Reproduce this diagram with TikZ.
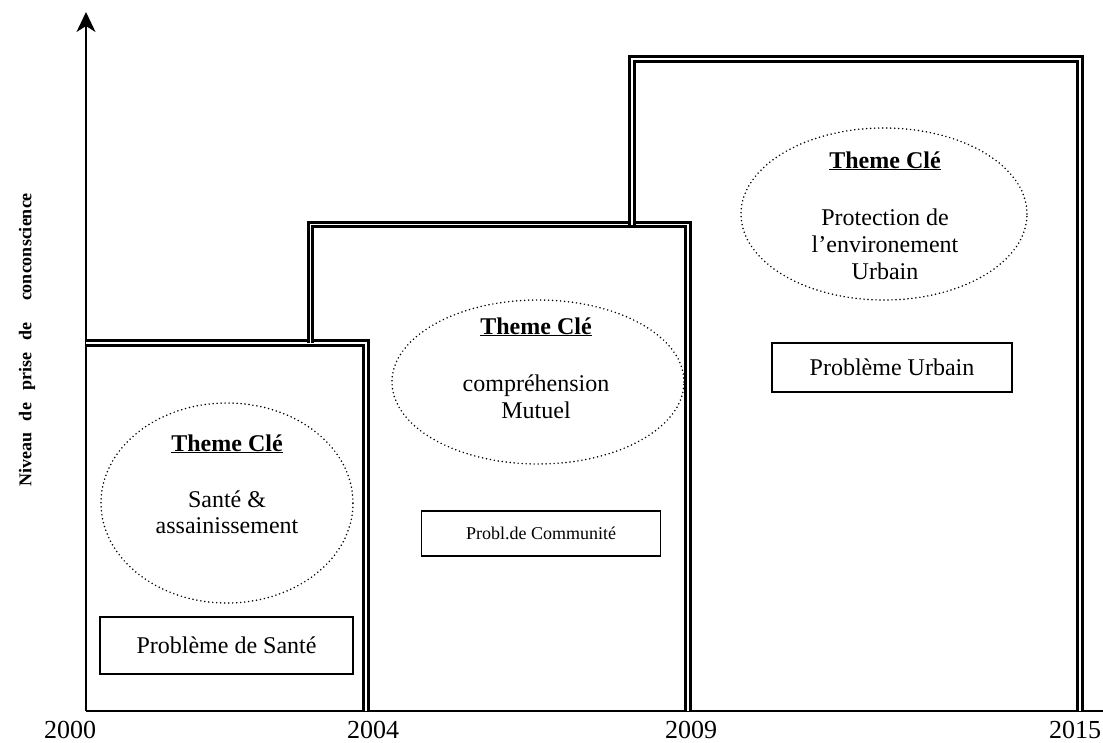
\documentclass[tikz,border=0pt]{standalone}
\usepackage{fontspec}
\setmainfont{Liberation Serif}
\usetikzlibrary{shapes.geometric,arrows.meta}

\begin{document}
\begin{tikzpicture}[x=1pt,y=-1pt,
  wall/.style={draw=black, line width=3.2pt, double=white, double distance=1.4pt},
  axis/.style={draw=black, line width=1.3pt},
  themeoval/.style={ellipse, draw=black, line width=1.7pt, line cap=round,
    dash pattern=on 0pt off 4pt, inner sep=0pt},
  keytext/.style={anchor=base, inner sep=0pt, font=\fontsize{24}{28}\selectfont\bfseries},
  bodytext/.style={anchor=base, inner sep=0pt, font=\fontsize{24}{28}\selectfont},
  probbox/.style={rectangle, draw=black, line width=1.3pt, inner sep=0pt},
  year/.style={anchor=base, inner sep=0pt, text depth=0pt, font=\fontsize{26}{30}\selectfont},
  ylabel/.style={rotate=90, inner sep=0pt, font=\fontsize{18}{21}\selectfont\bfseries}
]
\useasboundingbox (0,0) rectangle (1103,742);

% axes
\coordinate (o) at (86,711);
\coordinate (ytop) at (86,12);
\coordinate (xend) at (1103,711);
\draw[axis, line width=2pt, -{Stealth[length=20pt, width=19pt, inset=6pt]}] (o) -- (ytop);
\draw[axis] (o) -- (xend);

% stepped double-line frames
\draw[wall] (86,343) -- (366,343) -- (366,711);
\draw[wall] (310.5,343) -- (310.5,224.5) -- (688,224.5) -- (688,711);
\draw[wall] (632,224.5) -- (632,59) -- (1080,59) -- (1080,711);

% period 2000-2004
\node[themeoval, minimum width=252pt, minimum height=200pt] (e1) at (227,503) {};
\node[keytext] (k1) at (227,451) {\underline{Theme Clé}};
\node[bodytext] (t1a) at (227,507) {Santé \&};
\node[bodytext] (t1b) at (227,533) {assainissement};
\node[probbox, minimum width=253pt, minimum height=57pt, font=\fontsize{24}{28}\selectfont] (p1) at (226.5,645.5) {Problème de Santé};

% period 2004-2009
\node[themeoval, minimum width=292pt, minimum height=164pt] (e2) at (538,382) {};
\node[keytext] (k2) at (536,334) {\underline{Theme Clé}};
\node[bodytext] (t2a) at (536,391) {compréhension};
\node[bodytext] (t2b) at (536,418) {Mutuel};
\node[probbox, minimum width=239pt, minimum height=45pt, font=\fontsize{18}{22}\selectfont] (p2) at (541,533.5) {Probl.de Communité};

% period 2009-2015
\node[themeoval, minimum width=286pt, minimum height=172pt] (e3) at (884,214) {};
\node[keytext] (k3) at (885,168) {\underline{Theme Clé}};
\node[bodytext] (t3a) at (885,225) {Protection de};
\node[bodytext] (t3b) at (885,252) {l’environement};
\node[bodytext] (t3c) at (885,279) {Urbain};
\node[probbox, minimum width=240pt, minimum height=49pt, font=\fontsize{24}{28}\selectfont] (p3) at (892,367.5) {Problème Urbain};

% years
\node[year] (y0) at (70,738) {2000};
\node[year] (y1) at (373,738) {2004};
\node[year] (y2) at (691,738) {2009};
\node[year] (y3) at (1075,738) {2015};

% vertical axis title
\node[ylabel] (lab) at (27,340) {Niveau\hspace{12pt}de\hspace{12pt}prise\hspace{12pt}de\hspace{22pt}conconscience};
\end{tikzpicture}
\end{document}
